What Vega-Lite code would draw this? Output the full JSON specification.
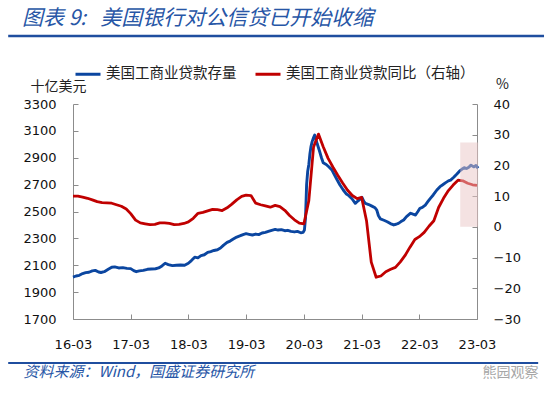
{
  "$schema": "https://vega.github.io/schema/vega-lite/v6.json",
  "width": 404,
  "height": 215,
  "autosize": {"type": "none"},
  "padding": {"left": 73, "top": 104, "right": 73, "bottom": 76},
  "background": "white",
  "config": {
    "view": {"stroke": null},
    "axis": {"grid": false, "domainColor": "#8c8c8c", "tickColor": "#8c8c8c", "labelFont": "DejaVu Sans", "labelFontSize": 13, "labelColor": "#111111", "titleFont": "Noto Sans CJK SC", "titleFontWeight": "normal", "labelOverlap": false}
  },
  "title": {"text": "图表 9:\u00a0\u00a0\u00a0美国银行对公信贷已开始收缩", "anchor": "start", "frame": "group", "font": "Noto Sans CJK SC", "fontSize": 21, "fontStyle": "italic", "fontWeight": "normal", "color": "#2756a6", "dx": -51, "dy": 14, "offset": 20},
  "datasets": {
    "loans": [
      {"date": "2016-03-01", "value": 2012}, {"date": "2016-03-20", "value": 2020}, {"date": "2016-04-10", "value": 2025}, {"date": "2016-05-01", "value": 2038}, {"date": "2016-05-20", "value": 2045}, {"date": "2016-06-10", "value": 2048}, {"date": "2016-07-01", "value": 2058}, {"date": "2016-07-20", "value": 2062}, {"date": "2016-08-10", "value": 2050}, {"date": "2016-08-25", "value": 2046}, {"date": "2016-09-15", "value": 2052}, {"date": "2016-10-10", "value": 2070}, {"date": "2016-11-01", "value": 2085}, {"date": "2016-11-20", "value": 2088}, {"date": "2016-12-15", "value": 2080}, {"date": "2017-01-10", "value": 2082}, {"date": "2017-02-05", "value": 2077}, {"date": "2017-03-01", "value": 2075}, {"date": "2017-03-20", "value": 2060}, {"date": "2017-04-05", "value": 2052}, {"date": "2017-04-25", "value": 2058}, {"date": "2017-05-20", "value": 2062}, {"date": "2017-06-15", "value": 2070}, {"date": "2017-07-10", "value": 2072}, {"date": "2017-08-05", "value": 2074}, {"date": "2017-08-25", "value": 2080}, {"date": "2017-09-15", "value": 2095}, {"date": "2017-10-05", "value": 2115}, {"date": "2017-10-25", "value": 2105}, {"date": "2017-11-20", "value": 2097}, {"date": "2017-12-15", "value": 2100}, {"date": "2018-01-10", "value": 2102}, {"date": "2018-02-05", "value": 2100}, {"date": "2018-03-01", "value": 2115}, {"date": "2018-03-20", "value": 2135}, {"date": "2018-04-10", "value": 2160}, {"date": "2018-04-30", "value": 2155}, {"date": "2018-05-20", "value": 2172}, {"date": "2018-06-10", "value": 2178}, {"date": "2018-07-01", "value": 2196}, {"date": "2018-07-20", "value": 2202}, {"date": "2018-08-10", "value": 2210}, {"date": "2018-09-01", "value": 2215}, {"date": "2018-09-20", "value": 2228}, {"date": "2018-10-10", "value": 2250}, {"date": "2018-11-01", "value": 2270}, {"date": "2018-11-20", "value": 2280}, {"date": "2018-12-10", "value": 2295}, {"date": "2019-01-01", "value": 2310}, {"date": "2019-01-20", "value": 2318}, {"date": "2019-02-10", "value": 2328}, {"date": "2019-03-01", "value": 2335}, {"date": "2019-03-20", "value": 2330}, {"date": "2019-04-10", "value": 2325}, {"date": "2019-05-01", "value": 2332}, {"date": "2019-05-20", "value": 2328}, {"date": "2019-06-10", "value": 2340}, {"date": "2019-07-01", "value": 2345}, {"date": "2019-07-20", "value": 2352}, {"date": "2019-08-10", "value": 2360}, {"date": "2019-09-01", "value": 2367}, {"date": "2019-09-20", "value": 2362}, {"date": "2019-10-10", "value": 2365}, {"date": "2019-11-01", "value": 2357}, {"date": "2019-11-20", "value": 2360}, {"date": "2019-12-10", "value": 2352}, {"date": "2020-01-01", "value": 2348}, {"date": "2020-01-20", "value": 2352}, {"date": "2020-02-10", "value": 2342}, {"date": "2020-02-25", "value": 2345}, {"date": "2020-03-04", "value": 2362}, {"date": "2020-03-11", "value": 2450}, {"date": "2020-03-18", "value": 2700}, {"date": "2020-03-25", "value": 2800}, {"date": "2020-04-01", "value": 2850}, {"date": "2020-04-08", "value": 2930}, {"date": "2020-04-15", "value": 2985}, {"date": "2020-04-22", "value": 3020}, {"date": "2020-05-01", "value": 3050}, {"date": "2020-05-08", "value": 3069}, {"date": "2020-05-15", "value": 3040}, {"date": "2020-05-25", "value": 3000}, {"date": "2020-06-05", "value": 2960}, {"date": "2020-06-20", "value": 2900}, {"date": "2020-07-01", "value": 2863}, {"date": "2020-07-20", "value": 2850}, {"date": "2020-08-05", "value": 2833}, {"date": "2020-08-25", "value": 2810}, {"date": "2020-09-05", "value": 2784}, {"date": "2020-09-25", "value": 2740}, {"date": "2020-10-15", "value": 2697}, {"date": "2020-11-05", "value": 2660}, {"date": "2020-11-25", "value": 2630}, {"date": "2020-12-10", "value": 2618}, {"date": "2020-12-30", "value": 2595}, {"date": "2021-01-20", "value": 2561}, {"date": "2021-02-05", "value": 2578}, {"date": "2021-02-20", "value": 2592}, {"date": "2021-03-03", "value": 2606}, {"date": "2021-03-15", "value": 2575}, {"date": "2021-03-25", "value": 2560}, {"date": "2021-04-15", "value": 2552}, {"date": "2021-05-05", "value": 2540}, {"date": "2021-05-25", "value": 2528}, {"date": "2021-06-05", "value": 2510}, {"date": "2021-06-15", "value": 2470}, {"date": "2021-06-28", "value": 2445}, {"date": "2021-07-20", "value": 2435}, {"date": "2021-08-10", "value": 2424}, {"date": "2021-08-30", "value": 2410}, {"date": "2021-09-20", "value": 2400}, {"date": "2021-10-05", "value": 2405}, {"date": "2021-10-20", "value": 2412}, {"date": "2021-11-05", "value": 2425}, {"date": "2021-11-22", "value": 2437}, {"date": "2021-12-10", "value": 2462}, {"date": "2022-01-05", "value": 2487}, {"date": "2022-01-20", "value": 2480}, {"date": "2022-02-05", "value": 2474}, {"date": "2022-02-20", "value": 2500}, {"date": "2022-03-05", "value": 2524}, {"date": "2022-03-20", "value": 2530}, {"date": "2022-04-08", "value": 2548}, {"date": "2022-04-25", "value": 2575}, {"date": "2022-05-10", "value": 2598}, {"date": "2022-05-28", "value": 2623}, {"date": "2022-06-20", "value": 2660}, {"date": "2022-07-10", "value": 2685}, {"date": "2022-07-25", "value": 2697}, {"date": "2022-08-15", "value": 2715}, {"date": "2022-09-01", "value": 2728}, {"date": "2022-09-15", "value": 2734}, {"date": "2022-10-05", "value": 2755}, {"date": "2022-10-25", "value": 2779}, {"date": "2022-11-10", "value": 2800}, {"date": "2022-11-25", "value": 2814}, {"date": "2022-12-10", "value": 2826}, {"date": "2022-12-25", "value": 2820}, {"date": "2023-01-08", "value": 2829}, {"date": "2023-01-22", "value": 2845}, {"date": "2023-02-08", "value": 2832}, {"date": "2023-02-22", "value": 2842}, {"date": "2023-03-08", "value": 2822}
    ],
    "yoy": [
      {"date": "2016-03-01", "value": 10.0}, {"date": "2016-04-01", "value": 10.0}, {"date": "2016-05-01", "value": 9.7}, {"date": "2016-06-01", "value": 9.3}, {"date": "2016-07-01", "value": 8.8}, {"date": "2016-08-01", "value": 8.2}, {"date": "2016-09-01", "value": 7.9}, {"date": "2016-10-01", "value": 7.8}, {"date": "2016-11-01", "value": 7.7}, {"date": "2016-12-01", "value": 7.2}, {"date": "2017-01-01", "value": 6.7}, {"date": "2017-02-01", "value": 5.8}, {"date": "2017-03-01", "value": 4.3}, {"date": "2017-04-01", "value": 2.2}, {"date": "2017-05-01", "value": 1.3}, {"date": "2017-06-01", "value": 1.0}, {"date": "2017-07-01", "value": 0.7}, {"date": "2017-08-01", "value": 0.8}, {"date": "2017-09-01", "value": 1.3}, {"date": "2017-10-01", "value": 1.3}, {"date": "2017-11-01", "value": 1.1}, {"date": "2017-12-01", "value": 0.7}, {"date": "2018-01-01", "value": 0.8}, {"date": "2018-02-01", "value": 1.1}, {"date": "2018-03-01", "value": 1.6}, {"date": "2018-04-01", "value": 2.8}, {"date": "2018-05-01", "value": 4.4}, {"date": "2018-06-01", "value": 4.7}, {"date": "2018-07-01", "value": 5.2}, {"date": "2018-08-01", "value": 5.7}, {"date": "2018-09-01", "value": 5.6}, {"date": "2018-10-01", "value": 5.3}, {"date": "2018-11-01", "value": 6.2}, {"date": "2018-12-01", "value": 7.4}, {"date": "2019-01-01", "value": 8.8}, {"date": "2019-02-01", "value": 9.9}, {"date": "2019-03-01", "value": 10.3}, {"date": "2019-04-01", "value": 10.2}, {"date": "2019-05-01", "value": 7.7}, {"date": "2019-06-01", "value": 7.2}, {"date": "2019-07-01", "value": 6.8}, {"date": "2019-08-01", "value": 6.4}, {"date": "2019-09-01", "value": 7.0}, {"date": "2019-10-01", "value": 6.6}, {"date": "2019-11-01", "value": 5.4}, {"date": "2019-12-01", "value": 3.7}, {"date": "2020-01-01", "value": 2.3}, {"date": "2020-02-01", "value": 1.2}, {"date": "2020-03-01", "value": 1.0}, {"date": "2020-04-01", "value": 8.5}, {"date": "2020-05-01", "value": 26.0}, {"date": "2020-06-01", "value": 30.2}, {"date": "2020-07-01", "value": 26.1}, {"date": "2020-08-01", "value": 22.3}, {"date": "2020-09-01", "value": 19.4}, {"date": "2020-10-01", "value": 16.8}, {"date": "2020-11-01", "value": 14.3}, {"date": "2020-12-01", "value": 12.0}, {"date": "2021-01-01", "value": 10.2}, {"date": "2021-02-01", "value": 9.2}, {"date": "2021-03-01", "value": 9.6}, {"date": "2021-04-01", "value": 2.0}, {"date": "2021-05-01", "value": -11.5}, {"date": "2021-06-01", "value": -16.4}, {"date": "2021-07-01", "value": -16.0}, {"date": "2021-08-01", "value": -14.6}, {"date": "2021-09-01", "value": -13.8}, {"date": "2021-10-01", "value": -13.2}, {"date": "2021-11-01", "value": -11.4}, {"date": "2021-12-01", "value": -9.3}, {"date": "2022-01-01", "value": -6.6}, {"date": "2022-02-01", "value": -4.1}, {"date": "2022-03-01", "value": -3.2}, {"date": "2022-04-01", "value": -1.8}, {"date": "2022-05-01", "value": 0.2}, {"date": "2022-06-01", "value": 2.0}, {"date": "2022-07-01", "value": 6.3}, {"date": "2022-08-01", "value": 9.3}, {"date": "2022-09-01", "value": 11.8}, {"date": "2022-10-01", "value": 13.6}, {"date": "2022-11-01", "value": 15.2}, {"date": "2022-12-01", "value": 15.0}, {"date": "2023-01-01", "value": 14.2}, {"date": "2023-02-01", "value": 13.7}, {"date": "2023-03-01", "value": 13.5}
    ]
  },
  "layer": [
    {
      "layer": [
        {
          "data": {"name": "loans"},
          "mark": {"type": "line", "strokeWidth": 2.9, "strokeJoin": "round"},
          "encoding": {
            "x": {"field": "date", "type": "temporal",
              "scale": {"type": "utc", "domain": [{"year": 2016, "month": 3, "date": 1, "utc": true}, {"year": 2023, "month": 3, "date": 1, "utc": true}]},
              "axis": {"orient": "bottom", "values": [{"year": 2016, "month": 3, "date": 1, "utc": true}, {"year": 2017, "month": 3, "date": 1, "utc": true}, {"year": 2018, "month": 3, "date": 1, "utc": true}, {"year": 2019, "month": 3, "date": 1, "utc": true}, {"year": 2020, "month": 3, "date": 1, "utc": true}, {"year": 2021, "month": 3, "date": 1, "utc": true}, {"year": 2022, "month": 3, "date": 1, "utc": true}, {"year": 2023, "month": 3, "date": 1, "utc": true}],
                "tickCount": 20, "format": "%y-%m", "tickSize": -5, "labelPadding": 24, "labelFlush": false, "labelOverlap": false,
                "title": "资料来源：Wind，国盛证券研究所", "titleX": -50, "titleY": 52, "titleAnchor": "start", "titleAlign": "left", "titleBaseline": "middle", "titleFontStyle": "italic", "titleFontSize": 15, "titleColor": "#2756a6"}},
            "y": {"field": "value", "type": "quantitative",
              "scale": {"domain": [1700, 3300], "nice": false, "zero": false},
              "axis": {"values": [1700, 1900, 2100, 2300, 2500, 2700, 2900, 3100, 3300], "tickCount": 20, "format": "d", "tickSize": -5, "labelPadding": 22, "labelOverlap": false,
                "title": "十亿美元", "titleAngle": 0, "titleX": -15, "titleY": -18, "titleAlign": "center", "titleBaseline": "middle", "titleFontSize": 14, "titleColor": "#222222"}},
            "color": {"datum": "美国工商业贷款存量", "type": "nominal",
              "scale": {"domain": ["美国工商业贷款存量", "美国工商业贷款同比（右轴）"], "range": ["#0b46a0", "#c00000"]},
              "legend": {"orient": "none", "legendX": 1, "legendY": -44, "direction": "horizontal", "title": null, "symbolType": "stroke", "symbolStrokeWidth": 3, "symbolSize": 625, "labelFont": "Noto Sans CJK SC", "labelFontSize": 14.5, "labelColor": "#222222", "labelLimit": 400, "columnPadding": 12, "labelOffset": 4}}
          }
        },
        {
          "data": {"values": [{}]},
          "mark": {"type": "rule", "color": "#1f4e9f", "strokeWidth": 2.5},
          "encoding": {
            "x": {"datum": {"year": 2015, "month": 1, "date": 16, "utc": true}, "type": "temporal"},
            "x2": {"datum": {"year": 2024, "month": 4, "date": 28, "utc": true}},
            "y": {"datum": 3806, "type": "quantitative"}
          }
        },
        {
          "data": {"values": [{}]},
          "mark": {"type": "rule", "color": "#1f4e9f", "strokeWidth": 2},
          "encoding": {
            "x": {"datum": {"year": 2015, "month": 1, "date": 16, "utc": true}, "type": "temporal"},
            "x2": {"datum": {"year": 2024, "month": 3, "date": 22, "utc": true}},
            "y": {"datum": 1373, "type": "quantitative"}
          }
        }
      ]
    },
    {
      "layer": [
        {
          "data": {"name": "yoy"},
          "mark": {"type": "line", "strokeWidth": 2.8, "strokeJoin": "round"},
          "encoding": {
            "x": {"field": "date", "type": "temporal",
              "axis": {"orient": "bottom", "labels": false, "ticks": false, "domain": false, "title": "熊园观察", "titleX": 409, "titleY": 53, "titleAnchor": "start", "titleAlign": "left", "titleBaseline": "middle", "titleFontSize": 14, "titleColor": "#a6a6a6"}},
            "y": {"field": "value", "type": "quantitative",
              "scale": {"domain": [-30, 40], "nice": false, "zero": false},
              "axis": {"orient": "right", "values": [-30, -20, -10, 0, 10, 20, 30, 40], "tickCount": 20, "tickSize": -5, "labelPadding": 21, "labelOverlap": false,
                "title": "%", "titleAngle": 0, "titleX": 25, "titleY": -20, "titleAlign": "center", "titleBaseline": "middle", "titleFontSize": 14, "titleColor": "#222222"}},
            "color": {"datum": "美国工商业贷款同比（右轴）", "type": "nominal"}
          }
        },
        {
          "data": {"values": [{}]},
          "mark": {"type": "rect", "color": "#e9c6c6", "opacity": 0.5},
          "encoding": {
            "x": {"datum": {"year": 2022, "month": 11, "date": 15, "utc": true}, "type": "temporal"},
            "x2": {"datum": {"year": 2023, "month": 3, "date": 8, "utc": true}},
            "y": {"datum": 0, "type": "quantitative"},
            "y2": {"datum": 27.5}
          }
        }
      ]
    }
  ],
  "resolve": {"scale": {"y": "independent"}, "axis": {"x": "independent"}}
}
